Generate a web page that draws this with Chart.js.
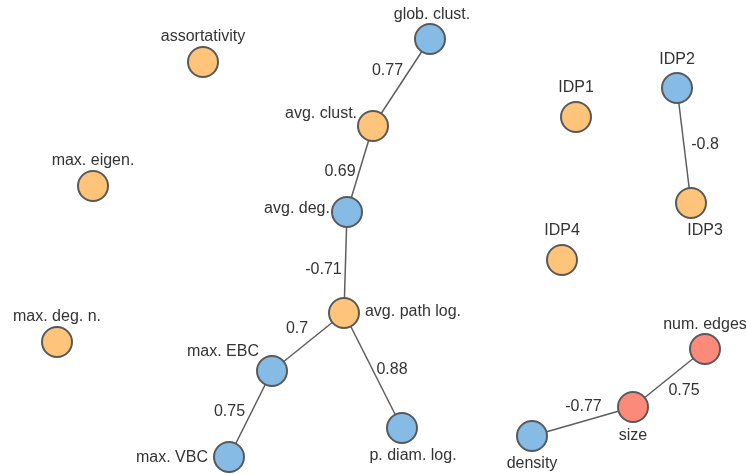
<!DOCTYPE html>
<html>
<head>
<meta charset="utf-8">
<script src="https://cdn.jsdelivr.net/npm/chart.js@4.4.1/dist/chart.umd.min.js"></script>
<style>
  html, body { margin: 0; padding: 0; background: #fff; }
  #wrap { width: 746px; height: 474px; position: relative; }
</style>
</head>
<body>
<div id="wrap"><canvas id="net"></canvas></div>
<script>
// nodes of the correlation network (layout coordinates)
var nodeNames = ["glob. clust.", "assortativity", "avg. clust.", "IDP1", "IDP2", "max. eigen.", "avg. deg.", "IDP3",
                 "IDP4", "avg. path log.", "max. deg. n.", "max. EBC", "num. edges", "size", "p. diam. log.", "density", "max. VBC"];
var nodeX = [430, 203, 373, 576, 677, 93, 347, 691, 562, 344, 57, 272, 705, 633, 402, 532, 229];
var nodeY = [39, 62, 126, 117, 88, 186, 212, 203, 260, 313, 342, 371, 349, 407, 428, 436, 457];
var nodeGroup = ["b", "o", "o", "o", "b", "o", "b", "o", "o", "o", "o", "b", "r", "r", "b", "b", "b"];

// edges: from, to, correlation
var edgeFrom = [0, 2, 6, 9, 9, 11, 4, 15, 13];
var edgeTo = [2, 6, 9, 11, 14, 16, 7, 13, 12];
var edgeWeight = [0.77, 0.69, -0.71, 0.7, 0.88, 0.75, -0.8, -0.77, 0.75];

// label placement relative to node / edge midpoint (style only)
var labelDx = [2, 0, -52, 0, 0, 0, -50, 14, 0, 69, 0, -49, 0, 0, 11, 0, -57];
var labelDy = [-24, -25, -12, -29, -28, -25, -3, 28, -29, -1, -25, -19, -24, 29, 28, 28, 1];
var edgeLabelDx = [-14, -20, -22, -11, 19, -21, 21, 1, 15];
var edgeLabelDy = [-12, 3, 7, -13, -1, -2, -1, -15, 13];

var groupColors = { b: "#85bbe5", o: "#fec47a", r: "#fb8a7b" };

var nodePoints = nodeNames.map(function(n, i){ return { x: nodeX[i], y: nodeY[i] }; });

var datasets = [{
  type: "scatter",
  data: nodePoints,
  pointRadius: 15,
  pointHoverRadius: 15,
  pointBackgroundColor: nodeGroup.map(function(g){ return groupColors[g]; }),
  pointBorderColor: "#595959",
  pointBorderWidth: 2,
  order: 0,
  clip: false
}];

for (var e = 0; e < edgeFrom.length; e++) {
  datasets.push({
    type: "line",
    data: [nodePoints[edgeFrom[e]], nodePoints[edgeTo[e]]],
    borderColor: "#5e5e5e",
    borderWidth: 1.5,
    pointRadius: 0,
    fill: false,
    order: 1,
    clip: false
  });
}

var textPlugin = {
  id: "netText",
  afterDatasetsDraw: function(chart){
    var ctx = chart.ctx;
    var xs = chart.scales.x, ys = chart.scales.y;
    ctx.save();
    ctx.font = "16px 'Liberation Sans', Arial, sans-serif";
    ctx.fillStyle = "#333";
    ctx.textBaseline = "middle";
    ctx.textAlign = "center";
    for (var i = 0; i < nodeNames.length; i++) {
      var px = xs.getPixelForValue(nodeX[i]);
      var py = ys.getPixelForValue(nodeY[i]);
      ctx.fillText(nodeNames[i], px + labelDx[i], py + labelDy[i]);
    }
    for (var k = 0; k < edgeFrom.length; k++) {
      var a = edgeFrom[k], b = edgeTo[k];
      var mx = (xs.getPixelForValue(nodeX[a]) + xs.getPixelForValue(nodeX[b])) / 2;
      var my = (ys.getPixelForValue(nodeY[a]) + ys.getPixelForValue(nodeY[b])) / 2;
      ctx.fillText(String(edgeWeight[k]), mx + edgeLabelDx[k], my + edgeLabelDy[k]);
    }
    ctx.restore();
  }
};

var netChart = new Chart(document.getElementById("net"), {
  data: { datasets: datasets },
  options: {
    responsive: true,
    maintainAspectRatio: false,
    animation: false,
    layout: { padding: 0, autoPadding: false },
    plugins: { legend: { display: false }, tooltip: { enabled: false } },
    scales: {
      x: { type: "linear", min: 0, max: 746, display: false },
      y: { type: "linear", min: 0, max: 474, reverse: true, display: false }
    }
  },
  plugins: [textPlugin]
});
</script>
</body>
</html>
